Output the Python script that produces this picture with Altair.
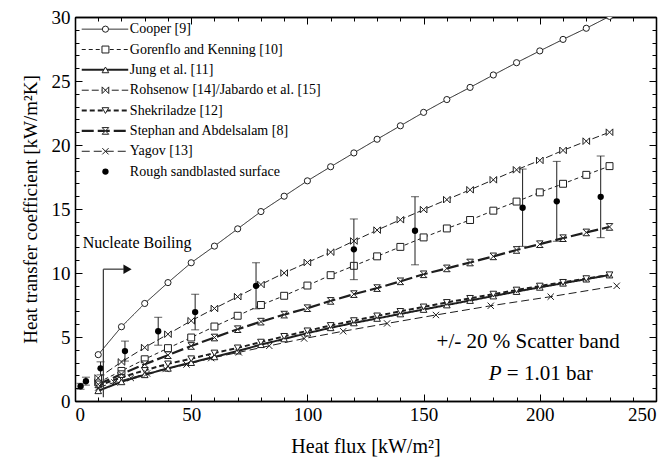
import altair as alt
import pandas as pd

FONT = "Liberation Serif"
INK = "#1e1e1e"

# ---------------- data ----------------
q = [10, 20, 30, 40, 50, 60, 70, 80, 90, 100, 110, 120,
     130, 140, 150, 160, 170, 180, 190, 200, 210, 220, 230]

cooper = [3.62, 5.8, 7.62, 9.25, 10.8, 12.1, 13.45, 14.8, 16.0, 17.2, 18.3, 19.38,
          20.45, 21.5, 22.55, 23.55, 24.5, 25.47, 26.43, 27.35, 28.25, 29.12, 30.05]
gorenflo = [1.45, 2.35, 3.26, 4.13, 4.96, 5.82, 6.66, 7.5, 8.22, 9.02, 9.83, 10.56,
            11.3, 12.04, 12.78, 13.48, 14.14, 14.87, 15.58, 16.3, 16.97, 17.67, 18.35]
jung = [0.8, 1.5, 2.05, 2.55, 3.0, 3.45, 3.9, 4.4, 4.85, 5.3, 5.72, 6.1,
        6.45, 6.8, 7.15, 7.5, 7.85, 8.2, 8.55, 8.88, 9.2, 9.52, 9.84]
rohsenow = [1.8, 3.05, 4.18, 5.22, 6.27, 7.23, 8.15, 9.1, 10.0, 10.82, 11.63, 12.5,
            13.35, 14.16, 14.95, 15.73, 16.5, 17.28, 18.06, 18.8, 19.58, 20.3, 21.0]
shekriladze = [1.2, 1.85, 2.4, 2.9, 3.3, 3.75, 4.15, 4.6, 5.05, 5.48, 5.9, 6.28,
               6.65, 7.0, 7.35, 7.7, 8.02, 8.35, 8.67, 8.98, 9.27, 9.56, 9.86]
stephan = [1.3, 2.1, 2.87, 3.58, 4.3, 4.96, 5.61, 6.2, 6.75, 7.25, 7.82, 8.35,
           8.82, 9.35, 9.9, 10.36, 10.82, 11.3, 11.8, 12.25, 12.72, 13.17, 13.6]

yagov_q = [10, 17, 24, 31, 39, 48, 58.6, 70.5, 83.6, 98.6, 115.4, 134.3, 155.3, 178.9, 204.7, 233.1]
yagov_h = [1.05, 1.45, 1.8, 2.15, 2.5, 2.85, 3.35, 3.8, 4.31, 4.88, 5.45, 6.06, 6.72, 7.44, 8.15, 9.0]

rough_q = [2.4, 4.7, 11.0, 21.5, 35.8, 51.7, 77.9, 120.0, 146.3, 192.6, 207.3, 226.2]
rough_h = [1.15, 1.55, 2.55, 3.9, 5.45, 6.95, 9.0, 11.85, 13.3, 15.1, 15.6, 15.95]
scatter_band = 0.20  # "+/- 20 % Scatter band"

names = ["Cooper [9]", "Gorenflo and Kenning [10]", "Jung et al. [11]",
         "Rohsenow [14]/Jabardo et al. [15]", "Shekriladze [12]",
         "Stephan and Abdelsalam [8]", "Yagov [13]", "Rough sandblasted surface"]

x_major = [0, 50, 100, 150, 200, 250]
x_minor = list(range(0, 251, 10))
y_major = [0, 5, 10, 15, 20, 25, 30]
y_minor = list(range(0, 31, 1))

# ---------------- styles ----------------
BOWTIE = "M-1,-1L1,1L1,-1L-1,1Z"
HOURGLASS = "M-1,-1L1,-1L-1,1L1,1Z"
XMARK = "M-1,-1L1,1M-1,1L1,-1"
styles = [
    dict(shape="circle", size=38, dash=[1, 0], width=1.0),
    dict(shape="square", size=48, dash=[4, 3], width=1.0),
    dict(shape="triangle-up", size=44, dash=[1, 0], width=2.0),
    dict(shape=BOWTIE, size=44, dash=[7, 3], width=1.0),
    dict(shape="triangle-down", size=44, dash=[5, 3], width=2.0),
    dict(shape=HOURGLASS, size=44, dash=[12, 4], width=2.2),
    dict(shape=XMARK, size=40, dash=[8, 4], width=1.0),
]
series_q = [q] * 6 + [yagov_q]
series_h = [cooper, gorenflo, jung, rohsenow, shekriladze, stephan, yagov_h]

xs = alt.Scale(domain=[0, 250], nice=False, zero=False)
ys = alt.Scale(domain=[0, 30], nice=False, zero=False)

common_axis = dict(grid=False, domainColor="#000", domainWidth=1.3, tickColor="#000",
                   labelFont=FONT, labelColor="#000", titleFont=FONT,
                   titleColor="#000", titleFontWeight="normal")
ax_x = alt.Axis(orient="bottom", values=x_major, title="Heat flux [kW/m²]",
                tickSize={"expr": "-7"}, labelPadding=11, labelFontSize=19,
                titleFontSize=20, titlePadding=12, **common_axis)
ax_y = alt.Axis(orient="left", values=y_major, title="Heat transfer coefficient [kW/m²K]",
                tickSize={"expr": "-7"}, labelPadding=12, labelFontSize=19,
                titleFontSize=19, titlePadding=11, **common_axis)

X = alt.X("q:Q", scale=xs, axis=ax_x)
Y = alt.Y("h:Q", scale=ys, axis=ax_y)

layers = []
# curves
for qs, hs, st in zip(series_q, series_h, styles):
    d = pd.DataFrame({"q": qs, "h": hs})
    layers.append(alt.Chart(d).mark_line(clip=True, color=INK, strokeDash=st["dash"],
                                         strokeWidth=st["width"]).encode(x=X, y=Y))
for qs, hs, st in zip(series_q, series_h, styles):
    d = pd.DataFrame({"q": qs, "h": hs})
    layers.append(alt.Chart(d).mark_point(clip=True, shape=st["shape"], size=st["size"],
                                          filled=True, fill="white", stroke=INK,
                                          strokeWidth=1, opacity=1).encode(x=X, y=Y))

# rough surface data with +/-20 % bars
rough = pd.DataFrame({"q": rough_q, "h": rough_h})
rough["lo"] = rough["h"] * (1 - scatter_band)
rough["hi"] = rough["h"] * (1 + scatter_band)
layers.append(alt.Chart(rough).mark_rule(color=INK, strokeWidth=1).encode(
    x=X, y=alt.Y("lo:Q", scale=ys, axis=ax_y), y2="hi:Q"))
layers.append(alt.Chart(rough).mark_tick(color=INK, orient="horizontal", size=8, thickness=1).encode(
    x=X, y=alt.Y("lo:Q", scale=ys, axis=ax_y)))
layers.append(alt.Chart(rough).mark_tick(color=INK, orient="horizontal", size=8, thickness=1).encode(
    x=X, y=alt.Y("hi:Q", scale=ys, axis=ax_y)))
layers.append(alt.Chart(rough).mark_point(shape="circle", size=40, filled=True, color="#000",
                                          opacity=1).encode(x=X, y=Y))

# legend (inside the plot, upper left)
leg_top, leg_step = 29.05, 1.59
leg_x0, leg_xm, leg_x1, leg_xt = 2.9, 13.1, 22.9, 23.6
for i, name in enumerate(names):
    row = pd.DataFrame({"q": [leg_x0], "q2": [leg_x1], "qm": [leg_xm], "qt": [leg_xt],
                        "h": [leg_top - leg_step * i], "label": [name]})
    if i < 7:
        st = styles[i]
        layers.append(alt.Chart(row).mark_rule(color=INK, strokeDash=st["dash"],
                                               strokeWidth=st["width"]).encode(x=X, x2="q2:Q", y=Y))
        layers.append(alt.Chart(row).mark_point(shape=st["shape"], size=st["size"], filled=True,
                                                fill="white", stroke=INK, strokeWidth=1,
                                                opacity=1).encode(
            x=alt.X("qm:Q", scale=xs, axis=ax_x), y=Y))
    else:
        layers.append(alt.Chart(row).mark_point(shape="circle", size=40, filled=True,
                                                color="#000", opacity=1).encode(
            x=alt.X("qm:Q", scale=xs, axis=ax_x), y=Y))
    layers.append(alt.Chart(row).mark_text(align="left", baseline="middle", font=FONT,
                                           fontSize=14, color="#000").encode(
        x=alt.X("qt:Q", scale=xs, axis=ax_x), y=Y, text="label:N"))

# annotations
nb = pd.DataFrame({"q": [3.3], "h": [12.35], "label": ["Nucleate Boiling"]})
layers.append(alt.Chart(nb).mark_text(align="left", baseline="middle", font=FONT,
                                      fontSize=16, color="#000").encode(x=X, y=Y, text="label:N"))
arrow_v = pd.DataFrame({"q": [12.2], "h": [0.3], "h2": [10.3]})
layers.append(alt.Chart(arrow_v).mark_rule(color="#333", strokeWidth=1.2).encode(x=X, y=Y, y2="h2:Q"))
arrow_h = pd.DataFrame({"q": [12.2], "q2": [21.0], "h": [10.3]})
layers.append(alt.Chart(arrow_h).mark_rule(color="#333", strokeWidth=1.2).encode(x=X, x2="q2:Q", y=Y))
arrow_head = pd.DataFrame({"q": [22.6], "h": [10.3]})
layers.append(alt.Chart(arrow_head).mark_point(shape="triangle-right", size=90, filled=True,
                                               color="#111", opacity=1).encode(x=X, y=Y))

band = pd.DataFrame({"q": [195.0], "h": [4.6], "label": ["+/- 20 % Scatter band"]})
layers.append(alt.Chart(band).mark_text(align="center", baseline="middle", font=FONT,
                                        fontSize=21, color="#000").encode(x=X, y=Y, text="label:N"))
pvar = pd.DataFrame({"q": [183.6], "h": [2.1], "label": ["P"]})
layers.append(alt.Chart(pvar).mark_text(align="right", baseline="middle", font=FONT,
                                        fontSize=21, fontStyle="italic", color="#000").encode(
    x=X, y=Y, text="label:N"))
pval = pd.DataFrame({"q": [185.8], "h": [2.1], "label": ["= 1.01 bar"]})
layers.append(alt.Chart(pval).mark_text(align="left", baseline="middle", font=FONT,
                                        fontSize=21, color="#000").encode(x=X, y=Y, text="label:N"))

data_layer = alt.layer(*layers)

# extra axes: minor ticks and mirrored frame ticks
axis_df = pd.DataFrame({"q": [0], "h": [0]})
bare = dict(grid=False, labels=False, title="", tickColor="#000", domainColor="#000",
            domainWidth=1.3)


def axis_layer(xax, yax):
    return alt.Chart(axis_df).mark_point(opacity=0).encode(
        x=alt.X("q:Q", scale=xs, axis=xax), y=alt.Y("h:Q", scale=ys, axis=yax))


minor_bl = axis_layer(alt.Axis(orient="bottom", values=x_minor, tickSize={"expr": "-4"}, **bare),
                      alt.Axis(orient="left", values=y_minor, tickSize={"expr": "-4"}, **bare))
major_tr = axis_layer(alt.Axis(orient="top", values=x_major, tickSize={"expr": "-7"}, **bare),
                      alt.Axis(orient="right", values=y_major, tickSize={"expr": "-7"}, **bare))
minor_tr = axis_layer(alt.Axis(orient="top", values=x_minor, tickSize={"expr": "-4"}, **bare),
                      alt.Axis(orient="right", values=y_minor, tickSize={"expr": "-4"}, **bare))

chart = alt.layer(data_layer, minor_bl, major_tr, minor_tr).resolve_axis(
    x="independent", y="independent"
).properties(
    width=581, height=384,
    autosize=alt.AutoSizeParams(type="none"),
    padding={"left": 67, "top": 9, "right": 8, "bottom": 60},
).configure_view(stroke=None)

chart.save("out.html", embed_options={"renderer": "svg", "actions": False})
